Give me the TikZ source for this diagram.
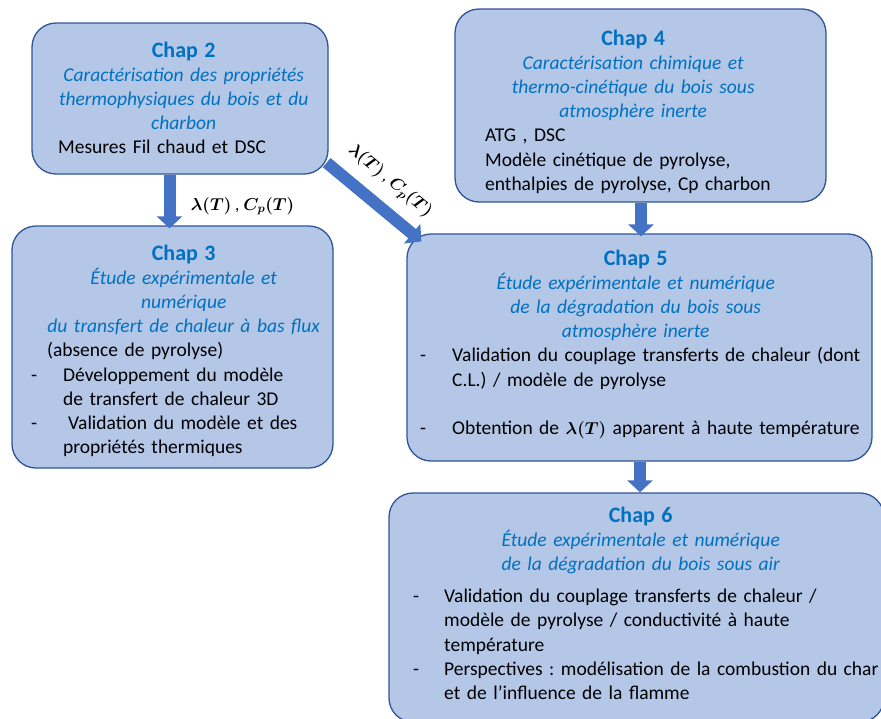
\documentclass[tikz,border=0pt]{standalone}
\usepackage{amsmath}
\usepackage{fontspec}
\setmainfont{Carlito}
\usetikzlibrary{positioning,arrows.meta,calc}
\frenchspacing

\definecolor{boxfill}{HTML}{B4C7E7}
\definecolor{boxline}{HTML}{2F5597}
\definecolor{arrowblue}{HTML}{4472C4}
\definecolor{titleblue}{HTML}{0070C0}

\newcommand{\chaptitle}[1]{{\fontsize{22}{24.2}\selectfont\bfseries\color{titleblue}#1}}
\newcommand{\chapsub}[1]{{\itshape\color{titleblue}#1}}
\newcommand{\centredline}[2]{\noindent\makebox[#1][c]{#2}\par}
\newcommand{\tiret}[2]{\hangindent=#1\hangafter=1\noindent\makebox[#1][l]{-}#2\par}

\begin{document}
\begin{tikzpicture}
    [x=1pt, y=-1pt,
     chapbox/.style={draw=boxline, line width=1.3pt, fill=boxfill, rounded corners=24pt},
     chaptext/.style={anchor=base west, inner sep=0pt, align=left,
       font=\fontsize{19.5}{24.2}\selectfont},
     blockarrow/.style={line width=12pt, arrowblue, -{Triangle[width=25pt,length=12pt]}},
     mathlabel/.style={inner sep=0pt, font=\fontsize{17.28}{20}\selectfont}]
  \useasboundingbox (0,0) rectangle (881,718);
  \clip (0,0) rectangle (881,718);

  \node (chap2) [chapbox, minimum width=296, minimum height=151] at (180,98.5) {};
  \node (chap4) [chapbox, minimum width=371, minimum height=193] at (640.5,105.5) {};
  \node (chap3) [chapbox, minimum width=321, minimum height=242] at (172.5,347) {};
  \node (chap5) [chapbox, minimum width=465, minimum height=227] at (639.5,347.5) {};
  \node (chap6) [chapbox, minimum width=495, minimum height=229] at (636.5,607.5) {};

  \node (chap2txt) [chaptext, text width=258pt] at (58,57) {%
    \centredline{251pt}{\chaptitle{Chap 2}}
    \centredline{251pt}{\chapsub{Caractérisation des propriétés}}
    \centredline{251pt}{\chapsub{thermophysiques du bois et du}}
    \centredline{251pt}{\chapsub{charbon}}
    Mesures Fil chaud et DSC};

  \node (chap4txt) [chaptext, text width=300pt] at (485,45) {%
    \centredline{296pt}{\chaptitle{Chap 4}}
    \centredline{296pt}{\chapsub{Caractérisation chimique et}}
    \centredline{296pt}{\chapsub{thermo-cinétique du bois sous}}
    \centredline{296pt}{\chapsub{atmosphère inerte}}
    ATG , DSC\\
    Modèle cinétique de pyrolyse,\\
    enthalpies de pyrolyse, Cp charbon};

  \node (chap3txt) [chaptext, text width=308pt] at (31,260) {%
    \centredline{305pt}{\chaptitle{Chap 3}}
    \centredline{305pt}{\chapsub{Étude expérimentale et}}
    \centredline{305pt}{\chapsub{numérique}}
    \centredline{305pt}{\chapsub{du transfert de chaleur à bas flux}}
    \noindent\hspace*{16pt}(absence de pyrolyse)\par
    \tiret{32pt}{Développement du modèle\newline de transfert de chaleur 3D}
    \tiret{32pt}{\hspace{5pt}Validation du modèle et des\newline propriétés thermiques}};

  \node (chap5txt) [chaptext, text width=452pt] at (420,265) {%
    \centredline{431pt}{\chaptitle{Chap 5}}
    \centredline{431pt}{\chapsub{Étude expérimentale et numérique}}
    \centredline{431pt}{\chapsub{de la dégradation du bois sous}}
    \centredline{431pt}{\chapsub{atmosphère inerte}}
    \tiret{32pt}{Validation du couplage transferts de chaleur (dont\newline C.L.) / modèle de pyrolyse}
    \vspace{24.2pt}
    \tiret{32pt}{Obtention de {\fontsize{17.28}{24.2}\selectfont$\boldsymbol{\lambda(T)}$} apparent à haute température}};

  \node (chap6txt) [chaptext, text width=468pt] at (413,522) {%
    \centredline{455pt}{\chaptitle{Chap 6}}
    \centredline{455pt}{\chapsub{Étude expérimentale et numérique}}
    \centredline{455pt}{\chapsub{de la dégradation du bois sous air}}
    \vspace{8pt}
    \tiret{31pt}{Validation du couplage transferts de chaleur /\newline modèle de pyrolyse / conductivité à haute\newline température}
    \tiret{31pt}{Perspectives : modélisation de la combustion du char\newline et de l’influence de la flamme}};

  \draw[blockarrow] ($(chap2.south)+(-10.5,0)$) -- ($(chap3.north)+(-3,3)$);
  \draw[blockarrow] ($(chap2.south east)+(-2,-12)$) -- ($(chap5.north west)+(15,8)$);
  \draw[blockarrow] ($(chap4.south)+(0.5,0)$) -- ($(chap5.north)+(1.5,3)$);
  \draw[blockarrow] ($(chap5.south)+(0.5,0)$) -- ($(chap6.north)+(3.5,0)$);

  \node (lbl23) [mathlabel] at (242.5,206) {$\boldsymbol{\lambda(T)}$ , $\boldsymbol{C_p(T)}$};
  \node (lbl25) [mathlabel, rotate=-39.8] at (390,181) {$\boldsymbol{\lambda(T)}$ , $\boldsymbol{C_p(T)}$};
\end{tikzpicture}
\end{document}
